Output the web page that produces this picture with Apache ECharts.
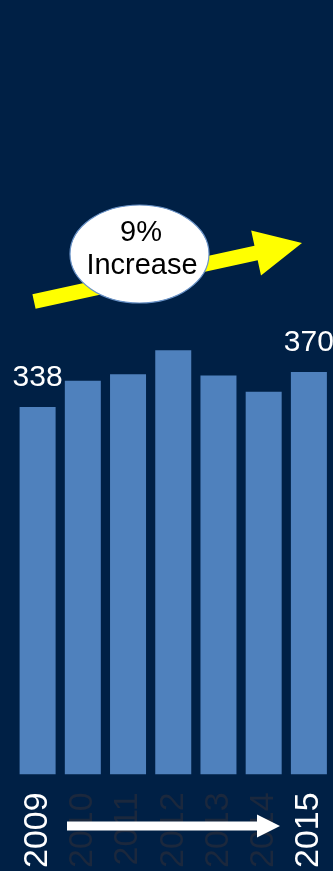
<!DOCTYPE html>
<html>
<head>
<meta charset="utf-8">
<style>
  html, body { margin: 0; padding: 0; background: #002045; }
  #chart { width: 333px; height: 871px; }
</style>
<script src="https://cdn.jsdelivr.net/npm/echarts@6/dist/echarts.min.js"></script>
</head>
<body>
<div id="chart"></div>
<script>
// Yearly totals, 2009 to 2015
const years = ['2009', '2010', '2011', '2012', '2013', '2014', '2015'];
const totals = [338, 362, 368, 390, 367, 352, 370];
// Only the end points of the period get a value label and a bright year label
const highlightYears = ['2009', '2015'];
const badgeLines = ['9%', 'Increase'];

const FONT = '"Liberation Sans", Arial, sans-serif';
const BG = '#002045';

// Build a block-arrow polygon from tail to tip
function arrowPoints(tail, tip, shaftW, headW, headL) {
  const dx = tip[0] - tail[0], dy = tip[1] - tail[1];
  const len = Math.hypot(dx, dy);
  const ux = dx / len, uy = dy / len;
  const nx = -uy, ny = ux;
  const neck = [tip[0] - ux * headL, tip[1] - uy * headL];
  const p = (b, s) => [b[0] + nx * s, b[1] + ny * s];
  return [
    p(tail, shaftW / 2), p(neck, shaftW / 2), p(neck, headW / 2),
    tip,
    p(neck, -headW / 2), p(neck, -shaftW / 2), p(tail, -shaftW / 2)
  ];
}

const chart = echarts.init(document.getElementById('chart'), null, { renderer: 'canvas' });

const barData = totals.map((v, i) => ({
  value: v,
  label: { show: highlightYears.includes(years[i]) }
}));

chart.setOption({
  backgroundColor: BG,
  animation: false,
  grid: { left: 15, right: 1.5, top: 339.5, bottom: 96, containLabel: false },
  xAxis: {
    type: 'category',
    data: years,
    axisLine: { show: false },
    axisTick: { show: false },
    axisLabel: {
      rotate: 90,
      margin: 18,
      fontFamily: FONT,
      fontSize: 34,
      interval: 0,
      color: (val) => highlightYears.includes(val) ? '#ffffff' : '#1b283d'
    }
  },
  yAxis: {
    type: 'value',
    min: 0,
    max: 400,
    show: false,
    splitLine: { show: false }
  },
  series: [{
    type: 'bar',
    data: barData,
    barWidth: 36,
    itemStyle: { color: '#4f81bd' },
    label: {
      position: 'top',
      distance: 14,
      color: '#ffffff',
      fontFamily: FONT,
      fontSize: 30
    }
  }],
  graphic: [
    {
      type: 'polygon',
      shape: { points: arrowPoints([34, 301.5], [302, 243], 15, 46, 47) },
      style: { fill: '#ffff00' },
      z: 10
    },
    {
      type: 'ellipse',
      shape: { cx: 139.5, cy: 254, rx: 69.5, ry: 49 },
      style: { fill: '#ffffff', stroke: '#6a93c8', lineWidth: 1.2 },
      z: 11
    },
    {
      type: 'text',
      x: 141, y: 233,
      style: {
        text: badgeLines[0], fill: '#000000', font: '29px ' + FONT,
        align: 'center', verticalAlign: 'middle'
      },
      z: 12
    },
    {
      type: 'text',
      x: 142, y: 266,
      style: {
        text: badgeLines[1], fill: '#000000', font: '29px ' + FONT,
        align: 'center', verticalAlign: 'middle'
      },
      z: 12
    },
    {
      type: 'polygon',
      shape: { points: arrowPoints([67, 826], [280, 826], 9, 23, 23) },
      style: { fill: '#ffffff' },
      z: 10
    }
  ]
});
</script>
</body>
</html>
